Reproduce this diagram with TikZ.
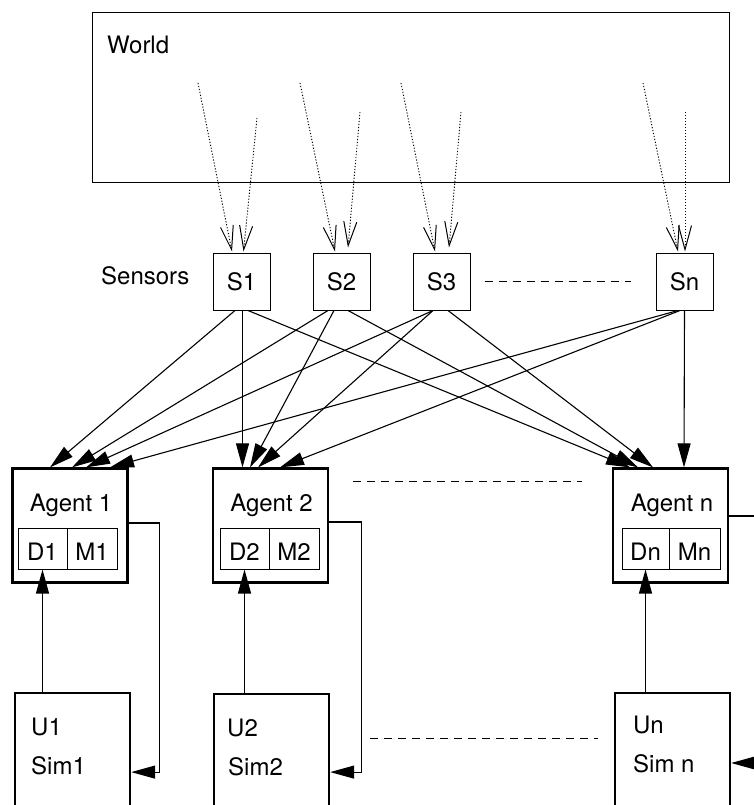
\documentclass[tikz,border=0pt]{standalone}
\usepackage{fontspec}
\setmainfont{TeX Gyre Heros}
\usetikzlibrary{arrows.meta}
\begin{document}
\begin{tikzpicture}[x=1pt,y=-1pt,
  every node/.style={inner sep=0pt, font=\fontsize{24}{28}\selectfont},
  lbl/.style={anchor=west},
  sensor/.style={draw, line width=1pt, minimum width=57pt, minimum height=57pt},
  agent/.style={draw, line width=2.2pt, minimum width=115pt, minimum height=114pt},
  cell/.style={draw, line width=1pt, minimum height=41pt, text height=23pt, text depth=0pt},
  sim/.style={draw, line width=2.2pt, anchor=north west, minimum width=115pt, minimum height=158pt},
  sarrow/.style={line width=1.1pt, -{Triangle[length=24pt,width=13pt]}},
  darrow/.style={line width=0.9pt, dash pattern=on 1.2pt off 1.8pt, -{Straight Barb[length=24pt,width=13pt,line width=1pt]}},
  dashline/.style={line width=1pt, dash pattern=on 8pt off 6pt},
]
\clip (0,0) rectangle (754,805);
\fill[white] (0,0) rectangle (754,805);

% World
\node[draw, line width=1.5pt, anchor=north west, minimum width=637pt, minimum height=170pt] (world) at (91.5,12) {};
\node[lbl] (worldlbl) at (107,45) {World};

% Sensors
\node[lbl] (sensorslbl) at (101,276) {Sensors};
\node[sensor] (S1) at (241.5,281.5) {S1};
\node[sensor] (S2) at (341.5,281.5) {S2};
\node[sensor] (S3) at (441.5,281.5) {S3};
\node[sensor] (Sn) at (684.5,281.5) {Sn};
\draw[dashline] ([xshift=14pt]S3.east) -- ([xshift=-25pt]Sn.west);

% dotted world-to-sensor arrows
\coordinate (w1a) at (198,83);  \coordinate (w1b) at (257,118);
\coordinate (w2a) at (300,83);  \coordinate (w2b) at (360,112);
\coordinate (w3a) at (401,83);  \coordinate (w3b) at (461,112);
\coordinate (wna) at (643,83);  \coordinate (wnb) at (685,112);
\draw[darrow] (w1a) -- ([xshift=-9.5pt,yshift=1pt]S1.north);
\draw[darrow] (w1b) -- ([xshift=2pt,yshift=1pt]S1.north);
\draw[darrow] (w2a) -- ([xshift=-6.5pt,yshift=1pt]S2.north);
\draw[darrow] (w2b) -- ([xshift=6.5pt,yshift=5pt]S2.north);
\draw[darrow] (w3a) -- ([xshift=-6.5pt,yshift=1pt]S3.north);
\draw[darrow] (w3b) -- ([xshift=7.5pt,yshift=5pt]S3.north);
\draw[darrow] (wna) -- ([xshift=-6.5pt,yshift=1pt]Sn.north);
\draw[darrow] (wnb) -- ([xshift=0.5pt,yshift=1pt]Sn.north);

% Agents
\node[agent] (A1) at (70,525.5) {};
\node[agent] (A2) at (270.5,525.5) {};
\node[agent] (An) at (670.5,525.5) {};
\node (A1lbl) at (71,505) {Agent 1};
\node (A2lbl) at (271.5,505) {Agent 2};
\node (Anlbl) at (672,505) {Agent n};
\node[cell, minimum width=49pt] (D1) at (42.5,548.5) {D1};
\node[cell, minimum width=50pt] (M1) at (92,548.5) {M1};
\node[cell, minimum width=49pt] (D2) at (244.5,548.5) {D2};
\node[cell, minimum width=50pt] (M2) at (294,548.5) {M2};
\node[cell, minimum width=47pt] (Dn) at (645.5,548.5) {Dn};
\node[cell, minimum width=51pt] (Mn) at (694.5,548.5) {Mn};
\draw[dashline] (353,481) -- (582,481);

% sensor-to-agent arrows
\draw[sarrow] ([xshift=-6.5pt]S1.south) -- ([xshift=-20pt]A1.north);
\draw[sarrow] ([xshift=1pt]S1.south) -- ([xshift=-28pt]A2.north);
\draw[sarrow] ([xshift=6.5pt]S1.south) -- ([xshift=-40.5pt]An.north);
\draw[sarrow] ([xshift=-13.5pt]S2.south) -- ([xshift=2pt]A1.north);
\draw[sarrow] ([xshift=-7.5pt]S2.south) -- ([xshift=-20.5pt]A2.north);
\draw[sarrow] ([xshift=6.5pt]S2.south) -- ([xshift=-32.5pt]An.north);
\draw[sarrow] ([xshift=-8.5pt]S3.south) -- ([xshift=16pt]A1.north);
\draw[sarrow] ([xshift=-8.5pt]S3.south) -- ([xshift=-12.5pt]A2.north);
\draw[sarrow] ([xshift=6.5pt]S3.south) -- ([xshift=-17.5pt]An.north);
\draw[sarrow] ([xshift=-6.5pt]Sn.south) -- ([xshift=40pt]A1.north);
\draw[sarrow] ([xshift=-4.5pt]Sn.south) -- ([xshift=9.5pt]A2.north);
\draw[sarrow] (Sn.south) -- ([xshift=13.5pt]An.north);

% Simulators
\node[sim] (U1) at (14,692) {};
\node[sim, minimum height=156pt] (U2) at (213,693) {};
\node[sim] (Un) at (614,692) {};
\node[lbl] (U1a) at (31,727) {U1};
\node[lbl] (U1b) at (31,766) {Sim1};
\node[lbl] (U2a) at (227,728) {U2};
\node[lbl] (U2b) at (228,767) {Sim2};
\node[lbl] (Una) at (633,725) {Un};
\node[lbl] (Unb) at (633,764) {Sim n};
\draw[dashline] (370,738) -- (598,738);

% simulator-to-agent arrows
\draw[sarrow] (D1.south |- U1.north) -- (D1.south);
\draw[sarrow] (D2.south |- U2.north) -- (D2.south);
\draw[sarrow] (Dn.south |- Un.north) -- (Dn.south);

% feedback
\draw[sarrow] ([yshift=2.5pt]A1.east) -- ++(31,0) |- (U1.east);
\draw[sarrow] ([yshift=3.5pt]A2.east) -- ++(32,0) |- (U2.east);
\coordinate (anout) at (770,516);
\draw[line width=1.1pt] ([yshift=9.5pt]An.east) -- (anout);
\coordinate (unin) at (770,763);
\draw[sarrow] (unin) -- (unin -| Un.east);
\end{tikzpicture}
\end{document}
